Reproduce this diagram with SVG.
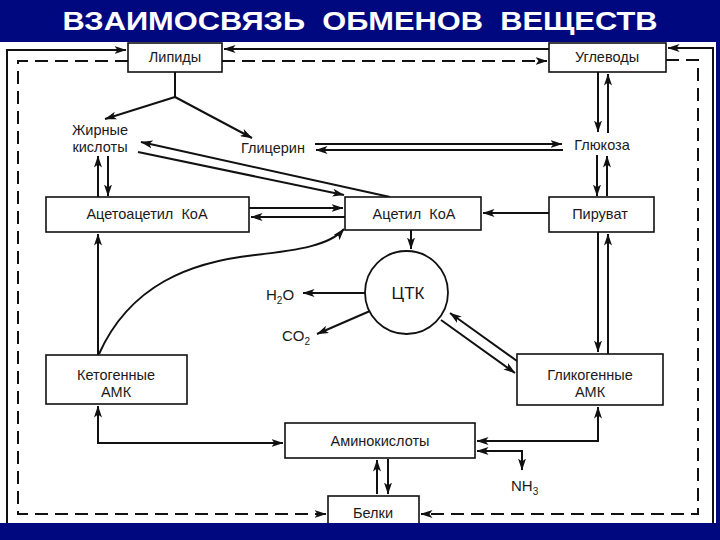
<svg xmlns="http://www.w3.org/2000/svg" width="720" height="540" viewBox="0 0 720 540">
<style>
.box{fill:#fff;stroke:#111;stroke-width:1.6}
.ln{fill:none;stroke:#111;stroke-width:2}
.ds{fill:none;stroke:#111;stroke-width:2;stroke-dasharray:13 7}
.t{font-family:"Liberation Sans",Arial,sans-serif;font-size:14.5px;fill:#1a1a1a;text-anchor:middle}
.f{font-family:"Liberation Sans",Arial,sans-serif;font-size:15px;fill:#1a1a1a}
.title{font-family:"Liberation Sans",Arial,sans-serif;font-weight:bold;font-size:25px;fill:#fff;text-anchor:middle}
</style>
<defs>
<marker id="ah" viewBox="0 0 12 8" refX="11.5" refY="4" markerWidth="12" markerHeight="8" markerUnits="userSpaceOnUse" orient="auto-start-reverse">
<path d="M0,0 L12,4 L0,8 L3,4 z" fill="#111"/>
</marker>
</defs>
<rect x="0" y="0" width="720" height="540" fill="#fff"/>
<rect x="0" y="0" width="720" height="42" fill="#00087f"/>
<rect x="716" y="0" width="4" height="540" fill="#00087f"/>
<text class="title" x="360" y="30" textLength="595" lengthAdjust="spacingAndGlyphs" xml:space="preserve">ВЗАИМОСВЯЗЬ  ОБМЕНОВ  ВЕЩЕСТВ</text>

<g id="connectors">
<path class="ln" d="M7,523 V50 H126" marker-end="url(#ah)"/>
<path class="ds" d="M128,61 H18 V514 H326" marker-end="url(#ah)"/>
<path class="ln" d="M549,49 H224" marker-end="url(#ah)"/>
<path class="ds" d="M222,61 H547" marker-end="url(#ah)"/>
<path class="ln" d="M713,523 V48 H668" marker-end="url(#ah)"/>
<path class="ds" d="M666,60 H698 V514 H421" marker-end="url(#ah)"/>
<path class="ln" d="M175,72 V97"/>
<path class="ln" d="M175,97 L105,119" marker-end="url(#ah)"/>
<path class="ln" d="M175,97 L252,138" marker-end="url(#ah)"/>
<path class="ln" d="M98,197 V156" marker-end="url(#ah)"/>
<path class="ln" d="M108,156 V196" marker-end="url(#ah)"/>
<path class="ln" d="M390,197 L141,142" marker-end="url(#ah)"/>
<path class="ln" d="M138,152 L344,195" marker-end="url(#ah)"/>
<path class="ln" d="M315,144 H562" marker-end="url(#ah)"/>
<path class="ln" d="M563,150 H316" marker-end="url(#ah)"/>
<path class="ln" d="M598,72 V132" marker-end="url(#ah)"/>
<path class="ln" d="M608,133 V74" marker-end="url(#ah)"/>
<path class="ln" d="M597,155 V196" marker-end="url(#ah)"/>
<path class="ln" d="M607,196 V156" marker-end="url(#ah)"/>
<path class="ln" d="M549,213 H483" marker-end="url(#ah)"/>
<path class="ln" d="M249,208 H343" marker-end="url(#ah)"/>
<path class="ln" d="M345,217 H251" marker-end="url(#ah)"/>
<path class="ln" d="M411,230 V249" marker-end="url(#ah)"/>
<path class="ln" d="M366,293 H303" marker-end="url(#ah)"/>
<path class="ln" d="M370,311 L317,334" marker-end="url(#ah)"/>
<path class="ln" d="M517,361 L450,313" marker-end="url(#ah)"/>
<path class="ln" d="M441,320 L515,373" marker-end="url(#ah)"/>
<path class="ln" d="M598,232 V352" marker-end="url(#ah)"/>
<path class="ln" d="M608,354 V234" marker-end="url(#ah)"/>
<path class="ln" d="M98,355 V234" marker-end="url(#ah)"/>
<path class="ln" d="M99,354 C130,285 190,262 255,255 C300,250 330,245 344,229" marker-end="url(#ah)"/>
<path class="ln" d="M98,406 V443 H283" marker-start="url(#ah)" marker-end="url(#ah)"/>
<path class="ln" d="M477,441 H598 V407" marker-start="url(#ah)" marker-end="url(#ah)"/>
<path class="ln" d="M477,451 H522 V470" marker-start="url(#ah)" marker-end="url(#ah)"/>
<path class="ln" d="M377,494 V460" marker-end="url(#ah)"/>
<path class="ln" d="M388,459 V494" marker-end="url(#ah)"/>
</g>

<g id="lipidy"><rect class="box" x="128" y="43" width="94" height="29"/><text class="t" x="175" y="62">Липиды</text></g>
<g id="uglevody"><rect class="box" x="549" y="43" width="117" height="29"/><text class="t" x="607" y="62">Углеводы</text></g>
<g id="zhirnye"><text class="t" x="100" y="135">Жирные</text><text class="t" x="100" y="152">кислоты</text></g>
<g id="glicerin"><text class="t" x="273" y="153">Глицерин</text></g>
<g id="glukoza"><text class="t" x="602" y="150">Глюкоза</text></g>
<g id="acetoacetil"><rect class="box" x="46" y="197" width="203" height="35"/><text class="t" x="147" y="219" xml:space="preserve">Ацетоацетил  КоА</text></g>
<g id="acetil"><rect class="box" x="345" y="197" width="136" height="33"/><text class="t" x="414" y="219" xml:space="preserve">Ацетил  КоА</text></g>
<g id="piruvat"><rect class="box" x="549" y="197" width="105" height="35"/><text class="t" x="600" y="219">Пируват</text></g>
<g id="ctk"><circle cx="406.5" cy="292.5" r="41.5" fill="#fff" stroke="#111" stroke-width="1.8"/><text class="t" x="408" y="299" style="font-size:17px">ЦТК</text></g>
<g id="h2o"><text class="f" x="266" y="300">H<tspan font-size="10" dy="4">2</tspan><tspan dy="-4">O</tspan></text></g>
<g id="co2"><text class="f" x="282" y="341">CO<tspan font-size="10" dy="4">2</tspan></text></g>
<g id="ketogennye"><rect class="box" x="46" y="355" width="141" height="49"/><text class="t" x="116" y="380">Кетогенные</text><text class="t" x="116" y="397">АМК</text></g>
<g id="glikogennye"><rect class="box" x="517" y="354" width="146" height="51"/><text class="t" x="590" y="380">Гликогенные</text><text class="t" x="590" y="397">АМК</text></g>
<g id="aminokisloty"><rect class="box" x="285" y="423" width="190" height="35"/><text class="t" x="380" y="446">Аминокислоты</text></g>
<g id="nh3"><text class="f" x="511" y="491">NH<tspan font-size="10" dy="4">3</tspan></text></g>
<g id="belki"><rect class="box" x="328" y="496" width="91" height="40"/><text class="t" x="373" y="518">Белки</text></g>
<rect x="0" y="523" width="716" height="17" fill="#00087f"/>
</svg>
